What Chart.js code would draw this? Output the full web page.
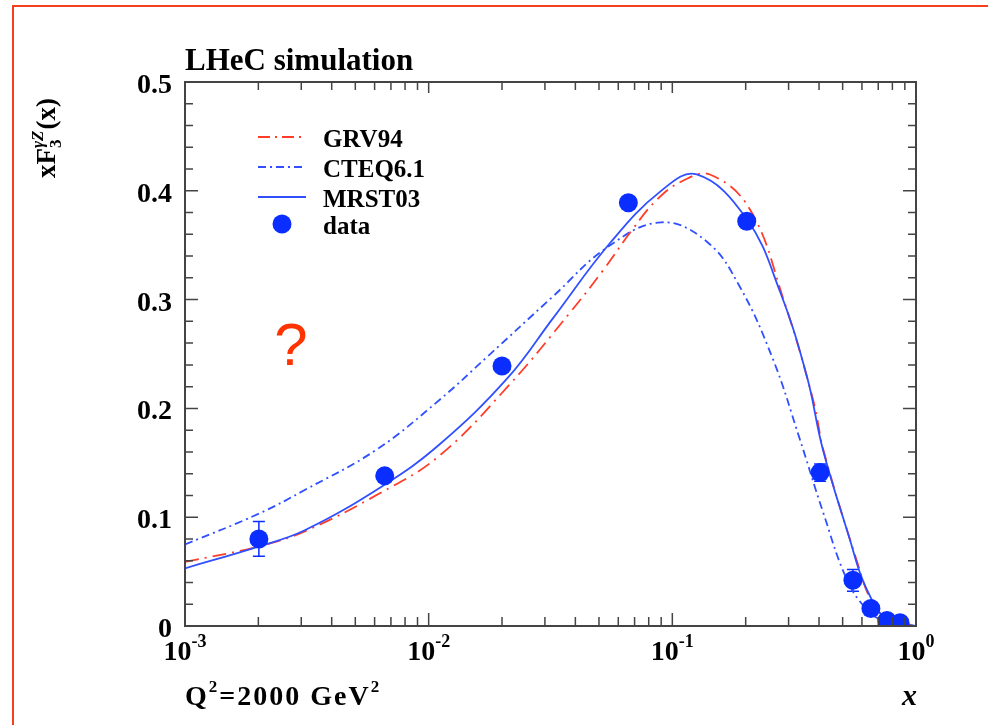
<!DOCTYPE html>
<html>
<head>
<meta charset="utf-8">
<script src="https://cdn.jsdelivr.net/npm/chart.js@4.4.1/dist/chart.umd.min.js"></script>
<style>
  html, body { margin: 0; padding: 0; background: #fff; overflow: hidden; }
  #wrap { position: relative; width: 988px; height: 725px; }
  #frame {
    position: absolute; left: 12px; top: 5px; width: 990px; height: 718px;
    border: 2px solid #f5401f; border-right: none; pointer-events: none;
  }
  canvas { position: absolute; left: 0; top: 0; }
</style>
</head>
<body>
<div id="wrap">
  <canvas id="chart" width="988" height="725"></canvas>
  <div id="frame"></div>
</div>
<script>
// ---------- Data ----------
const GRV_X = [0.001, 0.002, 0.0031, 0.0063, 0.011, 0.0211, 0.038, 0.052, 0.0689, 0.0866, 0.11, 0.1426, 0.208, 0.286, 0.378, 0.42, 0.575, 0.65, 0.75, 1.0];
const GRV_Y = [0.059, 0.073, 0.087, 0.122, 0.156, 0.220, 0.288, 0.327, 0.365, 0.392, 0.409, 0.415, 0.383, 0.300, 0.208, 0.159, 0.058, 0.025, 0.008, 0];

const CTEQ_X = [0.001, 0.002, 0.0031, 0.0061, 0.0111, 0.0173, 0.0324, 0.054, 0.09, 0.139, 0.189, 0.259, 0.33, 0.415, 0.522, 0.63, 0.75, 1.0];
const CTEQ_Y = [0.075, 0.103, 0.125, 0.162, 0.208, 0.247, 0.303, 0.348, 0.371, 0.353, 0.312, 0.245, 0.175, 0.105, 0.042, 0.015, 0.004, 0];

const MRST_X = [0.001, 0.002, 0.0031, 0.0065, 0.0111, 0.0211, 0.0324, 0.0555, 0.0889, 0.126, 0.202, 0.277, 0.357, 0.415, 0.536, 0.605, 0.711, 0.8, 1.0];
const MRST_Y = [0.053, 0.073, 0.088, 0.129, 0.167, 0.228, 0.283, 0.352, 0.399, 0.415, 0.374, 0.307, 0.229, 0.162, 0.079, 0.042, 0.012, 0.003, 0];

const DATA_X = [0.00201, 0.0066, 0.020, 0.066, 0.202, 0.404, 0.551, 0.653, 0.76, 0.86];
const DATA_Y = [0.080, 0.138, 0.239, 0.389, 0.372, 0.141, 0.042, 0.016, 0.005, 0.003];
const DATA_ERR = [0.016, 0.004, 0.004, 0.004, 0.006, 0.008, 0.010, 0.004, 0.003, 0.003];

const X_EXPONENTS = [-3, -2, -1, 0];
const Y_TICKS = [0, 0.1, 0.2, 0.3, 0.4, 0.5];
const Y_LABELS = ["0", "0.1", "0.2", "0.3", "0.4", "0.5"];

const LEGEND = ["GRV94", "CTEQ6.1", "MRST03", "data"];

// ---------- Styles ----------
const RED = "#ff3c28";
const BLUE = "#3050ff";
const DOT = "#0a2eff";
const AXIS = "#444";
const SERIF = "'Liberation Serif', 'Times New Roman', serif";

const pts = (xs, ys) => xs.map((x, i) => ({ x, y: ys[i] }));

// ---------- Custom axes / texts drawn over the library scales ----------
const decor = {
  id: "decor",
  beforeDatasetsDraw(chart) {
    // error bars (under the markers)
    const { ctx, scales: { x, y }, chartArea: a } = chart;
    ctx.save();
    ctx.beginPath();
    ctx.rect(a.left, a.top, a.right - a.left, a.bottom - a.top);
    ctx.clip();
    ctx.strokeStyle = DOT;
    ctx.lineWidth = 1.5;
    DATA_X.forEach((vx, i) => {
      const px = x.getPixelForValue(vx);
      const y1 = y.getPixelForValue(DATA_Y[i] + DATA_ERR[i]);
      const y2 = y.getPixelForValue(Math.max(0, DATA_Y[i] - DATA_ERR[i]));
      ctx.beginPath();
      ctx.moveTo(px, y1); ctx.lineTo(px, y2);
      ctx.moveTo(px - 6, y1); ctx.lineTo(px + 6, y1);
      ctx.moveTo(px - 6, y2); ctx.lineTo(px + 6, y2);
      ctx.stroke();
    });
    ctx.restore();
  },
  afterDraw(chart) {
    const { ctx, scales: { x, y }, chartArea: a } = chart;
    ctx.save();

    // frame
    ctx.strokeStyle = AXIS;
    ctx.lineWidth = 2;
    ctx.strokeRect(a.left, a.top, a.right - a.left, a.bottom - a.top);

    // y ticks (inside, both sides)
    ctx.lineWidth = 1.5;
    ctx.beginPath();
    for (let k = 0; k <= 25; k++) {
      const py = y.getPixelForValue(k / 50);
      const len = k % 5 === 0 ? 13 : 8;
      ctx.moveTo(a.left, py); ctx.lineTo(a.left + len, py);
      ctx.moveTo(a.right, py); ctx.lineTo(a.right - len, py);
    }
    // x ticks (inside, top and bottom)
    for (let e = -3; e <= 0; e++) {
      for (let m = 1; m <= 9; m++) {
        const v = m * Math.pow(10, e);
        if (v > 1.0001) break;
        const px = x.getPixelForValue(v);
        const len = m === 1 ? 13 : 9;
        ctx.moveTo(px, a.bottom); ctx.lineTo(px, a.bottom - len);
        ctx.moveTo(px, a.top); ctx.lineTo(px, a.top + (m === 1 ? 11 : 8));
      }
    }
    ctx.stroke();

    ctx.fillStyle = "#000";
    ctx.textBaseline = "alphabetic";

    // y tick labels
    ctx.font = `bold 28px ${SERIF}`;
    ctx.textAlign = "right";
    Y_TICKS.forEach((v, i) => {
      ctx.fillText(Y_LABELS[i], 172, y.getPixelForValue(v) + 11);
    });

    // x tick labels 10^e
    X_EXPONENTS.forEach((e) => {
      const px = x.getPixelForValue(Math.pow(10, e));
      ctx.font = `bold 28px ${SERIF}`;
      const wb = ctx.measureText("10").width;
      ctx.font = `bold 18px ${SERIF}`;
      const exp = e < 0 ? "-" + (-e) : String(e);
      const we = ctx.measureText(exp).width;
      const x0 = px - (wb + we) / 2;
      ctx.textAlign = "left";
      ctx.font = `bold 28px ${SERIF}`;
      ctx.fillText("10", x0, 660);
      ctx.font = `bold 18px ${SERIF}`;
      ctx.fillText(exp, x0 + wb, 647);
    });

    // title
    ctx.textAlign = "left";
    ctx.font = `bold 31px ${SERIF}`;
    ctx.fillText("LHeC simulation", 185, 70);

    // Q^2 label
    let cx = 185;
    const put = (t, size, dy) => {
      ctx.font = `bold ${size}px ${SERIF}`;
      ctx.fillText(t, cx, 705 + dy);
      cx += ctx.measureText(t).width;
    };
    ctx.letterSpacing = "2px";
    put("Q", 28, 0); put("2", 17, -13); put("=2000 GeV", 28, 0); put("2", 17, -13);
    ctx.letterSpacing = "0px";

    // x axis title
    ctx.textAlign = "right";
    ctx.font = `italic bold 30px ${SERIF}`;
    ctx.fillText("x", 917, 705);

    // y axis title (rotated)
    ctx.save();
    ctx.translate(55, 178);
    ctx.rotate(-Math.PI / 2);
    ctx.textAlign = "left";
    let tx = 0;
    ctx.font = `bold 27px ${SERIF}`;
    ctx.fillText("xF", tx, 0);
    tx += ctx.measureText("xF").width;
    ctx.font = `bold 17px ${SERIF}`;
    ctx.fillText("3", tx, 6);
    const w3 = ctx.measureText("3").width;
    ctx.font = `italic bold 17px ${SERIF}`;
    ctx.fillText("\u03b3Z", tx, -12);
    tx += Math.max(w3, ctx.measureText("\u03b3Z").width) + 1;
    ctx.font = `bold 27px ${SERIF}`;
    ctx.fillText("(x)", tx, 0);
    ctx.restore();

    // legend
    const rows = [137, 167, 197, 224];
    const styles = [
      { color: RED, dash: [12, 5, 2, 5] },
      { color: BLUE, dash: [8, 4, 2, 4] },
      { color: BLUE, dash: [] },
    ];
    styles.forEach((s, i) => {
      ctx.strokeStyle = s.color;
      ctx.lineWidth = 1.8;
      ctx.setLineDash(s.dash);
      ctx.beginPath();
      ctx.moveTo(258, rows[i]); ctx.lineTo(306, rows[i]);
      ctx.stroke();
    });
    ctx.setLineDash([]);
    ctx.fillStyle = DOT;
    ctx.beginPath();
    ctx.arc(282, rows[3], 9.5, 0, Math.PI * 2);
    ctx.fill();
    ctx.fillStyle = "#000";
    ctx.textAlign = "left";
    ctx.font = `bold 25px ${SERIF}`;
    LEGEND.forEach((t, i) => ctx.fillText(t, 323, rows[i] + 10));

    // annotation
    ctx.fillStyle = "#ff3300";
    ctx.textAlign = "center";
    ctx.font = `60px 'Liberation Sans', Arial, sans-serif`;
    ctx.fillText("?", 291, 365);

    ctx.restore();
  },
};

const line = (label, xs, ys, color, dash, order) => ({
  label, data: pts(xs, ys), order,
  borderColor: color, borderWidth: 1.8, borderDash: dash,
  pointRadius: 0, tension: 0.4, fill: false,
});

new Chart(document.getElementById("chart"), {
  type: "line",
  data: {
    datasets: [
      {
        label: "data", type: "scatter", data: pts(DATA_X, DATA_Y), order: 0,
        pointRadius: 9.5, pointHoverRadius: 9.5, backgroundColor: DOT, borderWidth: 0,
      },
      line("GRV94", GRV_X, GRV_Y, RED, [14, 6, 2, 6], 2),
      line("CTEQ6.1", CTEQ_X, CTEQ_Y, BLUE, [8, 4, 2, 4], 2),
      line("MRST03", MRST_X, MRST_Y, BLUE, [], 1),
    ],
  },
  options: {
    responsive: false,
    animation: false,
    devicePixelRatio: 1,
    layout: { padding: { left: 185, top: 82, right: 72, bottom: 99 } },
    plugins: { legend: { display: false }, tooltip: { enabled: false } },
    scales: {
      x: { type: "logarithmic", min: 0.001, max: 1, display: false },
      y: { type: "linear", min: 0, max: 0.5, display: false },
    },
  },
  plugins: [decor],
});
</script>
</body>
</html>
